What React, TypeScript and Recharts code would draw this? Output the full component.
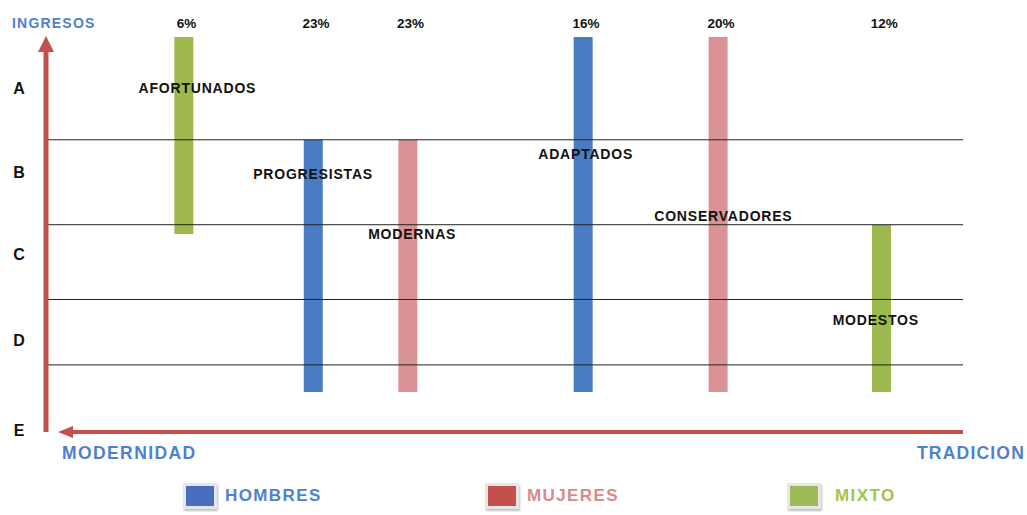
import React from "react";
import {
  ComposedChart,
  Bar,
  Cell,
  XAxis,
  YAxis,
  ReferenceLine,
  ReferenceDot,
  Legend,
} from "recharts";

const FONT = '"Liberation Sans", Arial, sans-serif';

// segments, from modern (left) to traditional (right)
const segments = ["AFORTUNADOS", "PROGRESISTAS", "MODERNAS", "ADAPTADOS", "CONSERVADORES", "MODESTOS"];
const groups = ["MIXTO", "HOMBRES", "MUJERES", "HOMBRES", "MUJERES", "MIXTO"];
const shares = ["6%", "23%", "23%", "16%", "20%", "12%"];
// position on the modernidad -> tradicion scale (0-100)
const tradition = [15.1, 29.2, 39.5, 58.6, 73.3, 91.1];
// income range covered by each segment (E = 0 ... A = 4)
const incomeLow = [2.33, 0.47, 0.47, 0.47, 0.47, 0.47];
const incomeHigh = [4.65, 3.44, 3.44, 4.65, 4.65, 2.44];
// where each segment name sits
const labelX = [16.6, 29.2, 40.0, 58.9, 73.9, 90.5];
const labelY = [4.05, 3.04, 2.33, 3.27, 2.54, 1.32];

const levels = ["A", "B", "C", "D", "E"];
const levelTicks = [4.05, 3.06, 2.09, 1.08, 0.02];
const bands = [3.44, 2.44, 1.56, 0.79];
const legendItems = ["HOMBRES", "MUJERES", "MIXTO"];

const barColors: Record<string, string> = { HOMBRES: "#4a7cc4", MUJERES: "#da9394", MIXTO: "#9db84c" };
const iconColors: Record<string, string> = { HOMBRES: "#4a6cbd", MUJERES: "#c44f4e", MIXTO: "#9bbb59" };
const textColors: Record<string, string> = { HOMBRES: "#5080d2", MUJERES: "#d98a8c", MIXTO: "#a5c24c" };
const ARROW = "#c4504d";
const AXIS_BLUE = "#4f7fce";

const rows = segments.map((name, i) => ({
  name,
  x: tradition[i],
  range: [incomeLow[i], incomeHigh[i]],
  group: groups[i],
  share: shares[i],
}));

const LevelTick = (props: any) => {
  const { x, y, payload } = props;
  return (
    <text x={x - 18} y={y} dy="0.35em" textAnchor="middle" fontFamily={FONT} fontWeight={700} fontSize={16} fill="#111">
      {levels[levelTicks.indexOf(payload.value)]}
    </text>
  );
};

const IngresosLabel = (props: any) => {
  const vb = props.viewBox || { x: 0, y: 37 };
  return (
    <text x={vb.x + 12} y={vb.y - 9} fontFamily={FONT} fontWeight={700} fontSize={14} fill={AXIS_BLUE} letterSpacing={1.2}>
      INGRESOS
    </text>
  );
};

const VArrow = (p: any) => {
  const x = p.x1;
  const top = Math.min(p.y1, p.y2);
  const bottom = Math.max(p.y1, p.y2);
  return (
    <g>
      <line x1={x + 1} y1={bottom} x2={x + 1} y2={top + 12} stroke={ARROW} strokeWidth={5} />
      <polygon points={`${x - 7},${top + 15} ${x + 9},${top + 15} ${x + 1},${top - 1}`} fill={ARROW} />
    </g>
  );
};

const HArrow = (p: any) => {
  const y = p.y1;
  const left = Math.min(p.x1, p.x2);
  const right = Math.max(p.x1, p.x2);
  return (
    <g>
      <line x1={left + 25} y1={y} x2={right} y2={y} stroke={ARROW} strokeWidth={4} />
      <polygon points={`${left + 13},${y} ${left + 28},${y - 6} ${left + 28},${y + 6}`} fill={ARROW} />
      <text x={left + 17} y={y + 27} fontFamily={FONT} fontWeight={700} fontSize={17.5} fill={AXIS_BLUE} letterSpacing={1.4}>
        MODERNIDAD
      </text>
      <text x={right + 62} y={y + 27} textAnchor="end" fontFamily={FONT} fontWeight={700} fontSize={17.5} fill={AXIS_BLUE} letterSpacing={1.2}>
        TRADICION
      </text>
    </g>
  );
};

const renderLegend = () => (
  <div style={{ display: "flex", paddingLeft: 183, height: 30, alignItems: "center", fontFamily: FONT }}>
    {legendItems.map((g) => (
      <div key={g} style={{ width: 302, flexShrink: 0, display: "flex", alignItems: "center" }}>
        <span
          style={{
            display: "inline-block",
            width: 28,
            height: 20,
            background: iconColors[g],
            border: "3px solid #e6e6e6",
            boxShadow: "1px 2px 2px rgba(0,0,0,0.25)",
            marginRight: g === "MIXTO" ? 14 : 8,
            flexShrink: 0,
          }}
        />
        <span style={{ color: textColors[g], fontWeight: 700, fontSize: 17, letterSpacing: 1.4 }}>{g}</span>
      </div>
    ))}
  </div>
);

export default function App() {
  return (
    <div style={{ position: "absolute", left: 0, top: 0, width: 1027, height: 515, background: "#fff", overflow: "hidden" }}>
      <ComposedChart width={1027} height={515} data={rows} margin={{ top: 7, right: 64, bottom: 53, left: 0 }}>
        <XAxis
          type="number"
          dataKey="x"
          orientation="top"
          domain={[0, 100]}
          ticks={tradition}
          interval={0}
          tickFormatter={(v: number) => shares[tradition.indexOf(v)]}
          axisLine={false}
          tickLine={false}
          tickMargin={3}
          tick={{ fill: "#111", fontSize: 13.5, fontWeight: 700, fontFamily: FONT, dx: 3 }}
        />
        <YAxis
          type="number"
          domain={[0, 4.65]}
          ticks={levelTicks}
          interval={0}
          width={45}
          axisLine={false}
          tickLine={false}
          tick={<LevelTick />}
          label={{ content: <IngresosLabel /> }}
        />
        <Bar dataKey="range" barSize={19} isAnimationActive={false}>
          {rows.map((r) => (
            <Cell key={r.name} fill={barColors[r.group]} />
          ))}
        </Bar>
        {bands.map((b) => (
          <ReferenceLine key={b} y={b} stroke="#222" strokeWidth={1} />
        ))}
        <ReferenceLine x={0} shape={VArrow} />
        <ReferenceLine y={0} shape={HArrow} />
        {segments.map((s, i) => (
          <ReferenceDot
            key={s}
            x={labelX[i]}
            y={labelY[i]}
            r={1}
            shape={(p: any) => (
              <text x={p.cx} y={p.cy} dy="0.35em" textAnchor="middle" fontFamily={FONT} fontWeight={700} fontSize={14} fill="#111" letterSpacing={0.8}>
                {s}
              </text>
            )}
          />
        ))}
        <Legend
          verticalAlign="bottom"
          content={renderLegend}
          wrapperStyle={{ top: 481, bottom: "auto", left: 0, width: 1027 }}
        />
      </ComposedChart>
    </div>
  );
}
